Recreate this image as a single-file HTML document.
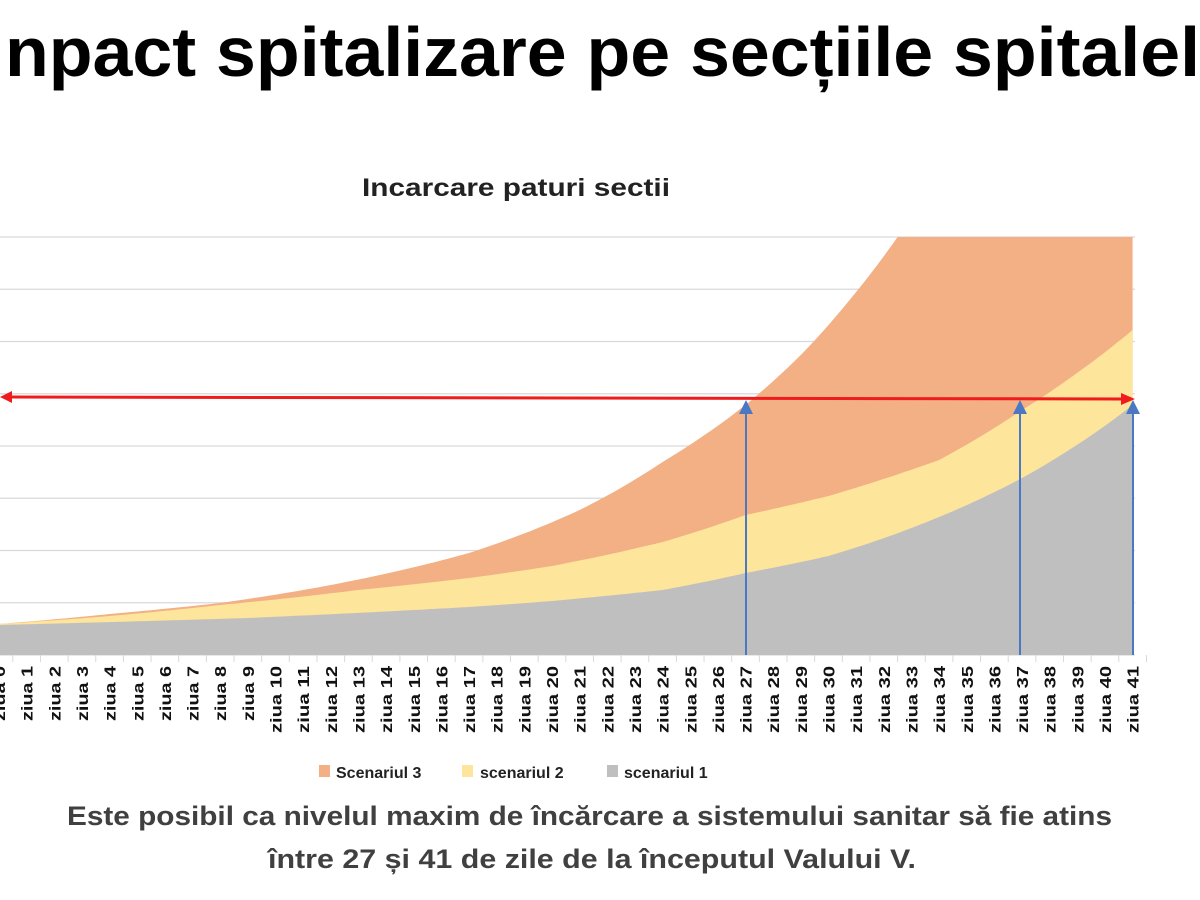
<!DOCTYPE html>
<html><head><meta charset="utf-8"><style>
html,body{margin:0;padding:0;background:#fff;width:1200px;height:900px;overflow:hidden}
svg{display:block}
text{font-family:"Liberation Sans",sans-serif;font-weight:bold}
</style></head><body>
<svg id="s" width="1200" height="900" viewBox="0 0 1200 900" xmlns="http://www.w3.org/2000/svg">
<text x="5" y="76" font-size="70" textLength="1195" lengthAdjust="spacingAndGlyphs" fill="#000">npact spitalizare pe secțiile spitalel</text>
<text x="362" y="196" font-size="25" textLength="308" lengthAdjust="spacingAndGlyphs" fill="#222">Incarcare paturi sectii</text>
<g id="grid" stroke="#d9d9d9" stroke-width="1.2"></g>
<g id="areas"></g>
<g id="ticks" stroke="#d9d9d9" stroke-width="1"></g>
<g id="labels" font-size="16" fill="#111"></g>
<g id="arrows"></g>
<rect x="319" y="765" width="11" height="12" fill="#f2b084"/>
<text x="336" y="778" font-size="16" fill="#222">Scenariul 3</text>
<rect x="462" y="765" width="11" height="12" fill="#fde59c"/>
<text x="480" y="778" font-size="16" fill="#222">scenariul 2</text>
<rect x="607" y="765" width="11" height="12" fill="#bfbfbf"/>
<text x="624" y="778" font-size="16" fill="#222">scenariul 1</text>
<text x="67" y="825" font-size="27" textLength="1045" lengthAdjust="spacingAndGlyphs" fill="#404040">Este posibil ca nivelul maxim de încărcare a sistemului sanitar să fie atins</text>
<text x="268" y="868" font-size="27" textLength="648" lengthAdjust="spacingAndGlyphs" fill="#404040">între 27 și 41 de zile de la începutul Valului V.</text>
</svg>
<script>
const NS="http://www.w3.org/2000/svg";
function el(t,a,p){const e=document.createElementNS(NS,t);for(const k in a)e.setAttribute(k,a[k]);p.appendChild(e);return e;}
const X=k=>-1+27.65*k;
const grid=document.getElementById('grid');
for(let i=0;i<9;i++){const y=237+52.25*i;el('line',{x1:0,x2:1135,y1:y,y2:y},grid);}
function interp(pts){const out=[];for(let k=0;k<=41.001;k+=0.25){let i=0;while(i<pts.length-2&&pts[i+1][0]<k)i++;const [k0,y0]=pts[i],[k1,y1]=pts[i+1];const t=Math.min(1,(k-k0)/(k1-k0));
const h0=655-y0,h1=655-y1;const h=h0*Math.pow(h1/h0,t);out.push([X(k),Math.max(237,655-h)]);}return out;}
const s1=[[0,625],[9,618],[17,607],[20,601],[24,590],[27,573],[30,556],[34,517],[37,478],[41,405]];
const s2=[[0,624],[4,616],[8,605],[13,590],[17,578],[20,566],[24,542],[27,515],[30,496],[34,460],[37,410],[41,330]];
const s3=[[0,624],[4,614],[8,603],[12,585],[17,553],[21,510],[24,462],[27,405],[29,355],[31,292],[32.5,237],[41,237]];
const areas=document.getElementById('areas');
function area(pts,c){const p=interp(pts);let d='M'+X(0)+',655 '+p.map(q=>'L'+q[0].toFixed(1)+','+q[1].toFixed(1)).join(' ')+' L'+X(41)+',655 Z';el('path',{d:d,fill:c},areas);}
area(s3,'#f2b084');area(s2,'#fde59c');area(s1,'#bfbfbf');
const ticks=document.getElementById('ticks'),labels=document.getElementById('labels');
for(let k=0;k<=41;k++){const x=X(k)+13.8;el('line',{x1:x,x2:x,y1:655,y2:662},ticks);
const t=el('text',{transform:`translate(${X(k)+6},666) rotate(-90)`,'text-anchor':'end',textLength:k<10?55:67,lengthAdjust:'spacingAndGlyphs'},labels);t.textContent='ziua '+k;}
const ar=document.getElementById('arrows');
el('line',{x1:8,y1:397,x2:1122,y2:399,stroke:'#ee1c1c','stroke-width':3},ar);
el('polygon',{points:'0,397 12,391 12,403',fill:'#ee1c1c'},ar);
el('polygon',{points:'1135,399 1121,393 1121,405',fill:'#ee1c1c'},ar);
for(const x of [746,1020,1133]){el('line',{x1:x,y1:655,x2:x,y2:410,stroke:'#4a78c2','stroke-width':2},ar);
el('polygon',{points:`${x},400 ${x-7},414 ${x+7},414`,fill:'#4a78c2'},ar);}
</script>
</body></html>
